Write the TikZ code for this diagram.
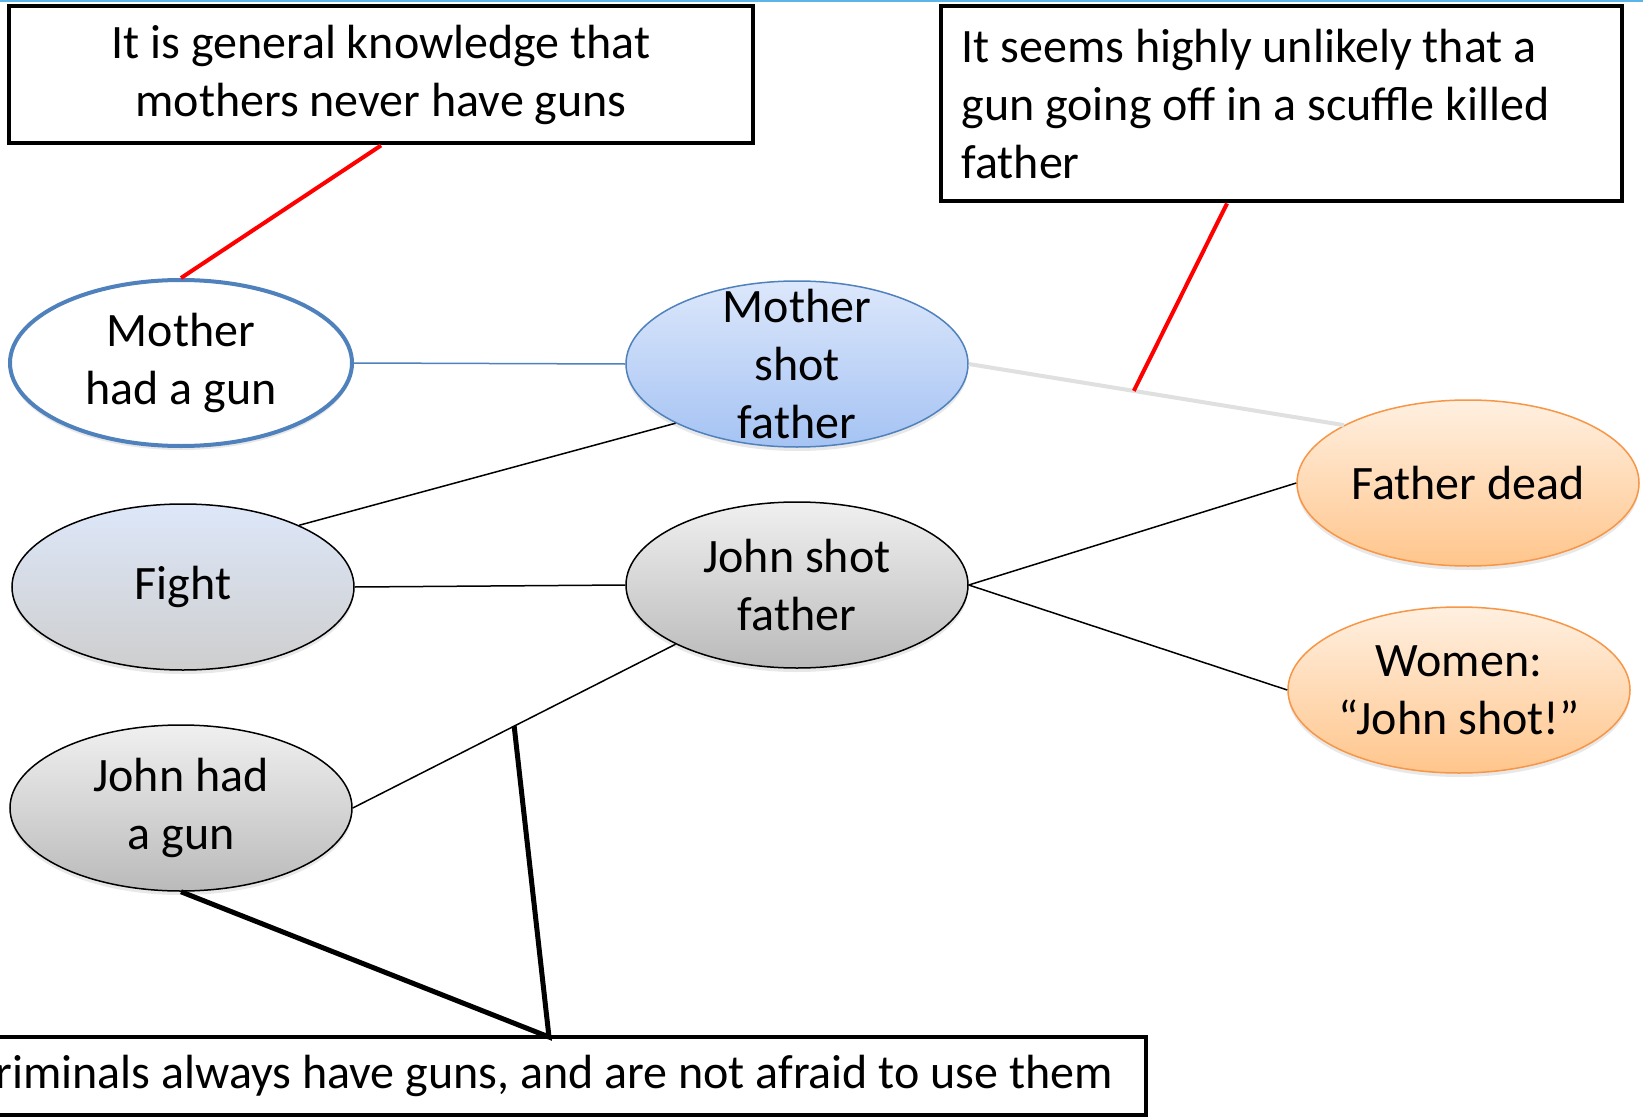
\documentclass[tikz,border=0pt]{standalone}
\usepackage{fontspec}
\setmainfont{Carlito}
\usetikzlibrary{calc,shapes.geometric,shadows}
\definecolor{rimblue}{HTML}{4F81BD}
\definecolor{rimorange}{HTML}{F79646}
\definecolor{topbar}{HTML}{5BB5E6}
\tikzset{every node/.style={font=\fontsize{48}{58}\selectfont, inner sep=0pt, align=center},
  claim/.style={ellipse, minimum width=342pt, minimum height=166pt, line width=1.5pt,
    drop shadow={shadow xshift=0pt, shadow yshift=-4pt, opacity=0.18}},
  plain/.style={claim, draw=rimblue, line width=4pt, fill=white, drop shadow={opacity=0}},
  blueish/.style={claim, draw=rimblue, top color={rgb,255:red,220;green,231;blue,251}, bottom color={rgb,255:red,165;green,195;blue,243}},
  mixed/.style={claim, draw=black, top color={rgb,255:red,221;green,231;blue,249}, bottom color={rgb,255:red,206;green,206;blue,206}},
  greyish/.style={claim, draw=black, top color=black!6, bottom color=black!27},
  orangeish/.style={claim, draw=rimorange, top color=orange!12!white, bottom color=orange!45!white},
  remark/.style={rectangle, draw=black, line width=4pt, fill=white},
  link/.style={line width=1.5pt, black},
  attack/.style={line width=4pt, red},
  support/.style={line width=5pt, black}}

\begin{document}
\begin{tikzpicture}[x=1pt, y=-1pt]
   \useasboundingbox (0,0) rectangle (1643,1118);
   \fill[white] (0,0) rectangle (1643,1118);
   \draw[topbar, line width=3pt] (0,1) -- (1643,1);

   % the hypotheses and the evidence
   \node[plain]     (mgun)  at (181,363)  {Mother\\had a gun};
   \node[blueish, inner ysep=-25pt] (msf) at (797,364) {Mother\\shot\\father};
   \node[mixed]     (fight) at (183,587)  {Fight};
   \node[greyish]   (jsf)   at (797,585)  {John shot\\father};
   \node[greyish]   (jgun)  at (181,808)  {John had\\a gun};
   \node[orangeish] (dead)  at (1468,483) {Father dead};
   \node[orangeish] (women) at (1459,690) {Women:\\``John shot!''};

   % the generalisations
   \node[remark, minimum width=744pt, minimum height=137pt] (b1) at (381,75)
        {It is general knowledge that\\mothers never have guns};
   \node[remark, minimum width=681pt, minimum height=195pt, inner xsep=21pt, text width=639pt, align=flush left] (b2) at (1281,104)
        {It seems highly unlikely that a\\gun going off in a scuffle killed\\father};
   \node[remark, anchor=east, minimum height=78pt, inner xsep=33pt] (b3) at (1148,1076)
        {Criminals always have guns, and are not afraid to use them};

   \draw[rimblue, line width=1.5pt] (mgun.east) -- (msf.west);
   \draw[link] (fight.28) -- (msf.206);
   \draw[link] (fight.east) -- (jsf.west);
   \draw[link] (jgun.east) -- (jsf.206);
   \draw[link] (jsf.east) -- (dead.west);
   \draw[link] (jsf.east) -- (women.west);
   \draw[black!12, line width=4pt] (msf.east) -- (dead.155);

   \coordinate (scuffle) at ($(msf.east)!0.44!(dead.155)$);
   \coordinate (b2foot) at ([xshift=-54pt]b2.south);
   \coordinate (apex) at (549,1037);
   \coordinate (mid) at ($(jgun.east)!0.5!(jsf.206)$);

   \draw[attack] (b1.south) -- (mgun.north);
   \draw[attack] (b2foot) -- (scuffle);
   \draw[support] (jgun.south) -- (apex) -- (mid);
\end{tikzpicture}
\end{document}
